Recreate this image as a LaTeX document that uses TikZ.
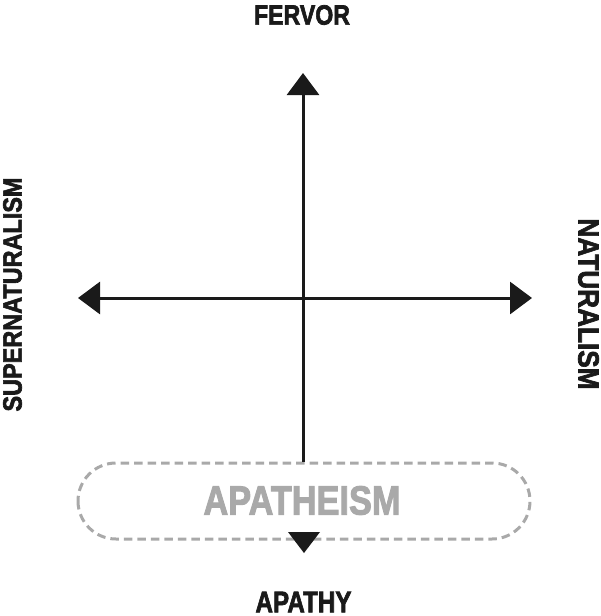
\documentclass[tikz,border=0pt]{standalone}
\usepackage{fontspec}
\setmainfont{Liberation Sans}
\newfontfamily\heavyfont{Liberation Sans Bold}[FakeBold=2.5]
\usetikzlibrary{arrows.meta}
\definecolor{ink}{HTML}{1A1A1A}
\definecolor{pale}{HTML}{A9A9A9}
\tikzset{
  axis/.style={draw=ink, line width=3pt},
  lbl/.style={inner sep=0pt, text=ink, font=\heavyfont},
  apbox/.style={draw=pale, line width=3pt, dash pattern=on 8.5pt off 5pt, rounded corners=38pt}
}
\newcommand{\fitlbl}[3]{\resizebox{#1}{#2}{#3}}
\begin{document}
\begin{tikzpicture}[x=1pt,y=1pt]
\useasboundingbox (0,0) rectangle (600,-616);
% labels
\node[lbl] (fervor) at (302,-15) {\fitlbl{96pt}{19.5pt}{FERVOR}};
\node[lbl] (apathy) at (303.5,-602) {\fitlbl{96pt}{20.5pt}{APATHY}};
\node[lbl, rotate=90] (super) at (12.5,-294.5) {\fitlbl{234pt}{18.5pt}{SUPERNATURALISM}};
\node[lbl, rotate=-90] (nat) at (588.5,-304) {\fitlbl{171pt}{20.5pt}{NATURALISM}};
% apatheism box
\draw[apbox] (78,-463) rectangle (530,-539);
\node[lbl, text=pale] (apatheism) at (302,-500.5) {\fitlbl{197pt}{28.5pt}{APATHEISM}};
% axes
\coordinate (vtop) at (303,-73);
\coordinate (vbot) at (303,-462);
\coordinate (hl) at (78,-298);
\coordinate (hr) at (532,-298);
\draw[axis, -{Triangle[width=32pt,length=22pt]}] (vbot) -- (vtop);
\draw[axis, {Triangle[width=32pt,length=22pt]}-{Triangle[width=32pt,length=22pt]}] (hl) -- (hr);
% lower free arrowhead
\coordinate (dtip) at (304,-553);
\fill[ink] (288,-532) -- (320,-532) -- (dtip) -- cycle;
\end{tikzpicture}
\end{document}
